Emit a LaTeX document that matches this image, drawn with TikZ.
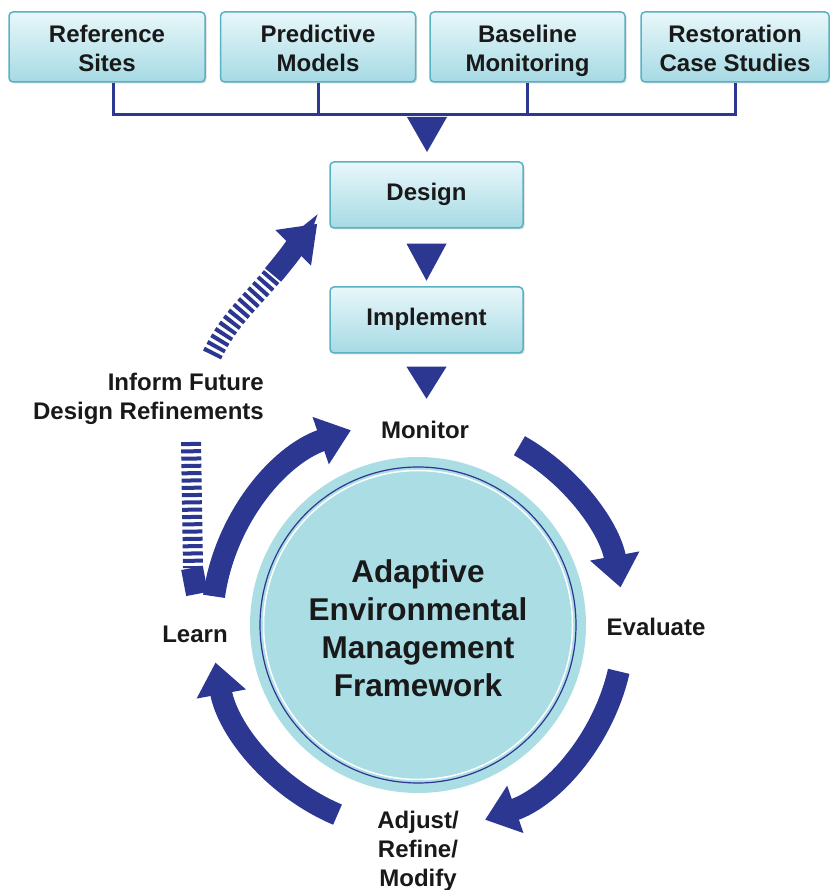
\documentclass[tikz,border=0pt]{standalone}
\usepackage{fontspec}
\setmainfont{Liberation Sans}
\usetikzlibrary{arrows.meta,calc,shadows}
\definecolor{aemnavy}{RGB}{43,55,145}
\definecolor{boxtop}{RGB}{232,247,250}
\definecolor{boxbot}{RGB}{166,218,228}
\definecolor{boxline}{RGB}{88,178,196}
\definecolor{circfill}{RGB}{170,221,228}

\begin{document}
\begin{tikzpicture}[x=1pt, y=1pt,
    every node/.style={font=\bfseries\fontsize{24}{29}\selectfont, align=center, text=black!90},
    boxbase/.style={draw=boxline, line width=1.5pt, rounded corners=4pt,
        top color=boxtop, bottom color=boxbot,
        drop shadow={shadow xshift=1.5pt, shadow yshift=-1.5pt, opacity=0.3}},
    stepbox/.style={boxbase, minimum width=193pt, minimum height=66pt,
        execute at begin node=\strut, execute at end node=\strut},
    srcbox/.style={boxbase, minimum width=195pt, minimum height=70pt,
        text height=49pt, text depth=0pt},
    bus/.style={draw=aemnavy, line width=3pt},
    pointer/.style={fill=aemnavy},
    band/.style={draw=aemnavy, line width=22pt},
    cyclearrow/.style={band, -{Triangle[width=48pt,length=32pt]}},
    stripes/.style={draw=aemnavy, line width=20pt, dash pattern=on 4pt off 3.3pt}]
    \useasboundingbox (0,0) rectangle (829,890);

    % sources
    \node[srcbox, minimum width=196pt] (ref) at (107,843) {Reference\\Sites};
    \node[srcbox] (pred) at (318,843) {Predictive\\Models};
    \node[srcbox] (base) at (527.5,843) {Baseline\\Monitoring};
    \node[srcbox, minimum width=188pt] (restor) at (735,843) {Restoration\\Case Studies};

    \coordinate (busline) at (427,775);
    \draw[bus] ([xshift=6pt]ref.south) |- (busline) -| (restor.south);
    \draw[bus] (pred.south) -- (pred.south |- busline);
    \draw[bus] (base.south) -- (base.south |- busline);

    % design / implement
    \node[stepbox] (design) at (426.5,695) {Design};
    \node[stepbox] (impl) at (426.5,570) {Implement};

    \fill[pointer] ($(busline)+(-20,-2)$) -- ++(40,0) -- ++(-20,-35) -- cycle;
    \fill[pointer] ($(design.south)+(-20,-15)$) -- ++(40,0) -- ++(-20,-37) -- cycle;
    \fill[pointer] ($(impl.south)+(-20,-13)$) -- ++(40,0) -- ++(-20,-32) -- cycle;

    % framework circle
    \node[circle, fill=circfill, minimum size=336pt, inner sep=0pt] (aem) at (418,265) {};
    \draw[aemnavy, line width=1.2pt] (aem.center) circle[radius=158];
    \draw[white, line width=1.5pt] (aem.center) circle[radius=154.5];
    \node[font=\bfseries\fontsize{31.5}{38}\selectfont] (aemlabel) at ([yshift=-3pt]aem.center)
        {Adaptive\\Environmental\\Management\\Framework};

    \node (monitor) at (425,460) {Monitor};
    \node (evaluate) at (656,263) {Evaluate};
    \node (learn) at (195,256) {Learn};
    \node (adjust) at (418,39) {Adjust/\\Refine/\\Modify};
    \node[anchor=east, inner sep=0pt, align=right] (inform) at (264,491)
        {Inform Future\\Design Refinements};

    % cycle
    \draw[cyclearrow] ($(aem.center)+(60.5:206)$) arc[start angle=60.5, end angle=10.5, radius=206];
    \draw[cyclearrow] ($(aem.center)+(-13:206)$) arc[start angle=-13, end angle=-71, radius=206];
    \draw[cyclearrow] ($(aem.center)+(247:206)$) arc[start angle=247, end angle=190.5, radius=206];
    \draw[band] (192,322) -- (197,296);
    \draw[cyclearrow] ($(aem.center)+(172:206)$) arc[start angle=172, end angle=109, radius=206];

    % feedback to design
    \coordinate (fbtip) at ([shift={(-12,5)}]design.south west);
    \draw[stripes] (191,448) -- (193,322);
    \draw[stripes] (212,535) to[out=64,in=230] (273,615);
    \draw[band, line width=21pt, -{Triangle[width=48pt,length=34pt]}] (273,615) to[out=50,in=225] (fbtip);
\end{tikzpicture}
\end{document}
